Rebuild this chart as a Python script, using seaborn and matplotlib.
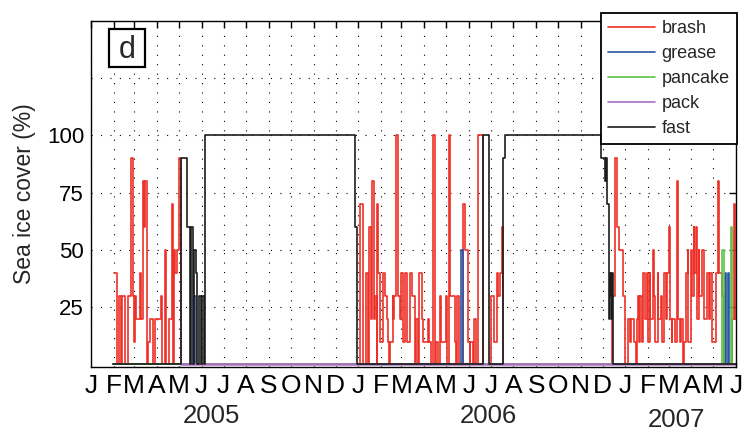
import pandas as pd
import numpy as np
import matplotlib
matplotlib.use('Agg')
import matplotlib.pyplot as plt
import matplotlib.dates as mdates
import matplotlib.transforms as mtrans
from matplotlib.lines import Line2D
from matplotlib.patches import Rectangle
import seaborn as sns

sns.set_style('white')
plt.rcParams['font.family'] = ['Liberation Sans', 'DejaVu Sans']

# ---------------- data (day offsets from 1 Jan 2005, cover in %) ----------------
start_date = '2005-01-01'
end_day = 881
ice_types = ['brash', 'grease', 'pancake', 'pack', 'fast']
ice_colors = ['#ee3128', '#2b55a6', '#5cc147', '#a970c0', '#1c1c1c']

brash_days = [32, 36, 38, 41, 43, 46, 50, 54, 57, 59, 60, 62, 67, 68, 71, 73, 74, 76, 78, 81,
              85, 88, 95, 97, 101, 103, 106, 110, 112, 113, 115, 118, 120, 123,
              363, 368, 371, 376, 378, 380, 382, 384, 386, 388, 390, 391, 392, 395, 399, 402,
              404, 405, 407, 409, 412, 413, 414, 416, 417, 419, 422, 424, 426, 429, 431, 436,
              439, 443, 444, 446, 448, 452, 453, 460, 462, 464, 467, 470, 471, 474, 477, 478,
              485, 486, 489, 491, 497, 499, 500, 503, 508, 511, 515, 517, 518, 522, 523, 526,
              529, 535, 547, 551, 554, 556, 558, 561, 563,
              712, 716, 719, 721, 727, 729, 733, 736, 738, 741, 744, 746, 747, 748, 750, 753,
              754, 757, 760, 761, 763, 764, 767, 769, 771, 774, 775, 778, 780, 782, 785, 787,
              790, 791, 793, 794, 797, 800, 802, 804, 806, 809, 810, 813, 815, 816, 819, 821,
              823, 824, 827, 828, 830, 831, 834, 837, 842, 844, 846, 848, 853, 856, 858, 862,
              864, 876, 878, 880, 881]
brash_cover = [40, 0, 30, 0, 30, 0, 30, 90, 30, 10, 30, 20, 40, 20, 80, 60, 80, 0, 10, 20,
               0, 20, 30, 0, 50, 0, 20, 70, 0, 50, 40, 50, 90, 0,
               0, 70, 0, 40, 0, 60, 20, 80, 20, 30, 0, 70, 40, 10, 40, 30,
               20, 10, 0, 10, 30, 20, 30, 80, 100, 30, 20, 40, 10, 40, 10, 40,
               30, 0, 20, 0, 40, 20, 10, 20, 10, 0, 100, 0, 10, 0, 30, 10,
               30, 0, 100, 30, 10, 0, 30, 0, 70, 50, 10, 0, 10, 0, 20, 0,
               100, 0, 30, 10, 40, 30, 40, 60, 0,
               30, 90, 60, 50, 30, 0, 20, 10, 20, 10, 0, 20, 30, 10, 30, 10,
               40, 20, 40, 10, 40, 20, 50, 30, 10, 40, 20, 30, 10, 40, 20, 40,
               60, 20, 10, 20, 10, 80, 20, 10, 20, 0, 10, 40, 50, 10, 50, 30,
               60, 40, 60, 20, 50, 30, 50, 20, 40, 20, 40, 10, 40, 80, 40, 30,
               0, 20, 70, 20, 20]

grease_days = [30, 141, 143, 505, 508, 866, 868, 870, 872, 881]
grease_cover = [0, 30, 0, 50, 0, 40, 0, 40, 0, 0]

pancake_days = [30, 862, 864, 874, 876, 881]
pancake_cover = [0, 50, 0, 60, 0, 0]

pack_days = [123, 881]
pack_cover = [0, 0]

fast_days = [30, 123, 131, 135, 137, 139, 141, 143, 145, 147, 150, 151, 154, 156, 361, 363,
             536, 544, 563, 566, 696, 702, 703, 705, 707, 708, 709, 710, 711, 712, 713, 881]
fast_cover = [0, 90, 60, 0, 60, 0, 50, 40, 0, 30, 0, 30, 0, 100, 60, 0,
              100, 0, 90, 100, 90, 80, 90, 70, 40, 20, 40, 30, 20, 40, 0, 0]

month_letters = ['J', 'F', 'M', 'A', 'M', 'J', 'J', 'A', 'S', 'O', 'N', 'D']
year_labels = ['2005', '2006', '2007']
year_label_dates = ['2005-06-15', '2006-06-28', '2007-03-12']
y_ticks = [25, 50, 75, 100, 125]
y_tick_labels = ['25', '50', '75', '100', '']

# ---------------- build long table ----------------
t0 = pd.Timestamp(start_date)


def frame(name, days, cover):
    return pd.DataFrame({'date': t0 + pd.to_timedelta(days, unit='D'),
                         'cover': cover, 'type': name})


df = pd.concat([frame('brash', brash_days, brash_cover),
                frame('grease', grease_days, grease_cover),
                frame('pancake', pancake_days, pancake_cover),
                frame('pack', pack_days, pack_cover),
                frame('fast', fast_days, fast_cover)], ignore_index=True)

# ---------------- figure ----------------
fig = plt.figure(figsize=(7.44, 4.32), dpi=100)
ax = fig.add_axes([91 / 744, 1 - 367 / 432, 645 / 744, 346 / 432])

sns.lineplot(data=df, x='date', y='cover', hue='type', hue_order=ice_types,
             palette=dict(zip(ice_types, ice_colors)), estimator=None, sort=False,
             drawstyle='steps-post', linewidth=1.2, legend=False, ax=ax)
for ln in ax.lines:
    ln.set_clip_on(False)
ax.lines[3].set_linewidth(1.8)

t1 = t0 + pd.Timedelta(days=end_day)
ax.set_xlim(t0, t1)
ax.set_ylim(-1.1, 150)

months = pd.date_range(t0, t1, freq='MS')
ax.set_xticks(mdates.date2num(months.to_pydatetime()))
ax.set_xticklabels([month_letters[m.month - 1] for m in months], fontsize=19)
ax.set_yticks(y_ticks)
ax.set_yticklabels(y_tick_labels, fontsize=16)
ax.tick_params(direction='in', length=5, width=1, top=True, right=True, pad=5, colors='k')
ax.grid(True, color='k', linestyle=(0, (1, 7.5)), linewidth=0.8)
ax.set_xlabel('')
ax.set_ylabel('Sea ice cover (%)', fontsize=16.5, labelpad=8)
for sp in ax.spines.values():
    sp.set_color('k')
    sp.set_linewidth(1.0)

blend = mtrans.blended_transform_factory(ax.transData, ax.transAxes)
for lab, d, yy in zip(year_labels, year_label_dates, [-0.143, -0.143, -0.152]):
    ax.text(mdates.date2num(pd.Timestamp(d)), yy, lab, transform=blend,
            ha='center', va='center', fontsize=18.5)

# panel letter in a square box
ax.add_patch(Rectangle((0.028, 0.867), 0.056, 0.110, transform=ax.transAxes,
                       fc='white', ec='k', lw=1.6, zorder=5, clip_on=False))
ax.text(0.056, 0.917, 'd', transform=ax.transAxes, ha='center', va='center',
        fontsize=22, zorder=6)

handles = [Line2D([], [], color=c, lw=1.2) for c in ice_colors]
leg = ax.legend(handles, ice_types, loc='upper right',
                bbox_to_anchor=(737 / 744, 1 - 13 / 432), bbox_transform=fig.transFigure,
                borderaxespad=0, frameon=True, fancybox=False, edgecolor='k', framealpha=1,
                fontsize=13, handlelength=2.6, handletextpad=0.35, labelspacing=0.44,
                borderpad=0.4)
leg.get_frame().set_linewidth(1.3)
leg.set_zorder(10)

fig.savefig('out.png', dpi=100)
